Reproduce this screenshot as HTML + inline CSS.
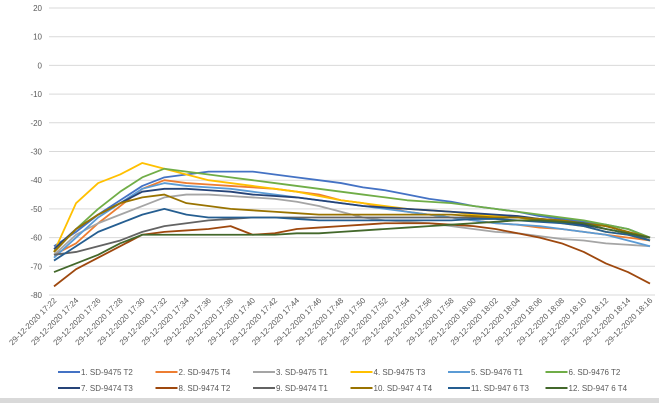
<!DOCTYPE html>
<html><head><meta charset="utf-8"><style>
body{margin:0;background:#fff;width:659px;height:403px;overflow:hidden;font-family:"Liberation Sans",sans-serif}
</style></head><body>
<svg id="chart" width="659" height="403" xmlns="http://www.w3.org/2000/svg" font-family="Liberation Sans, sans-serif">
<rect x="0" y="398" width="659" height="5" fill="#d9d9d9"/>
</svg>
<script>
const categories=["17:22","17:24","17:26","17:28","17:30","17:32","17:34","17:36","17:38","17:40","17:42","17:44","17:46","17:48","17:50","17:52","17:54","17:56","17:58","18:00","18:02","18:04","18:06","18:08","18:10","18:12","18:14","18:16"];
const yTicks=[20,10,0,-10,-20,-30,-40,-50,-60,-70,-80];
const seriesNames=["1. SD-9475 T2","2. SD-9475 T4","3. SD-9475 T1","4. SD-9475 T3","5. SD-9476 T1","6. SD-9476 T2","7. SD-9474 T3","8. SD-9474 T2","9. SD-9474 T1","10. SD-947 4 T4","11. SD-947 6 T3","12. SD-947 6 T4"];
const seriesColors=["#4472C4","#ED7D31","#A5A5A5","#FFC000","#5B9BD5","#70AD47","#264478","#9E480E","#636363","#997300","#255E91","#43682B"];
const s1=[-63,-58,-52,-47,-42,-39,-38,-37,-37,-37,-38,-39,-40,-41,-42.5,-43.5,-45,-46.5,-47.5,-49,-50,-51,-52.5,-53.5,-54.5,-55.5,-57,-60];
const s2=[-66,-62,-55,-49,-43,-40,-41,-41.5,-42,-42.5,-43,-44,-45,-47,-48,-49.5,-51,-52,-53,-54,-55,-55.5,-56.5,-57,-58,-59,-60,-61];
const s3=[-66,-59,-55,-52,-49,-46,-45,-45,-45.5,-46,-46.5,-47.5,-49,-51,-53,-54,-54.5,-55,-56,-57,-58,-58.5,-59.5,-60.5,-61,-62,-62.5,-63];
const s4=[-65,-48,-41,-38,-34,-36,-38,-40,-41,-42,-43,-44,-45.5,-47,-48,-49,-50,-50.5,-51,-52,-52.5,-53,-54,-55,-56,-58,-59,-61];
const s5=[-67,-60,-53,-48,-43,-41,-42,-42.5,-43,-44,-45,-46,-47,-48,-49,-50,-51,-52,-53,-54,-55,-55.5,-56,-57,-58,-59,-61,-63];
const s6=[-65,-57,-50,-44,-39,-36,-37,-38,-39,-40,-41,-42,-43,-44,-45,-46,-47,-47.5,-48,-49,-50,-51,-52,-53,-54,-55.5,-57,-60];
const s7=[-64,-57,-52,-48,-44,-43,-43,-43.5,-44,-45,-45.5,-46,-47,-48,-49,-49.5,-50,-50.5,-51,-51.5,-52,-52.5,-53.5,-54.5,-55.5,-57,-58.5,-60];
const s8=[-77,-71,-67,-63,-59,-58,-57.5,-57,-56,-59,-58.5,-57,-56.5,-56,-55.5,-55,-55,-55,-55.5,-56,-57,-58.5,-60,-62,-65,-69,-72,-76];
const s9=[-66,-65,-63,-61,-58,-56,-55,-54,-53.5,-53,-53,-53,-53,-53,-53,-53,-53,-53,-53,-53,-53,-53,-53.5,-54,-55,-56,-58,-61];
const s10=[-65,-57,-52,-48,-46,-45,-48,-49,-50,-50.5,-51,-51.5,-52,-52,-52,-52,-52,-52,-52,-52.5,-53,-53,-53.5,-54,-55,-56,-58,-60];
const s11=[-68,-63,-58,-55,-52,-50,-52,-53,-53,-53,-53,-53.5,-54,-54,-54,-54,-54,-54,-54,-53.5,-53.5,-54,-54.5,-55,-56,-58,-59,-61];
const s12=[-72,-69,-66,-62,-59,-59,-59,-59,-59,-59,-59,-58.5,-58.5,-58,-57.5,-57,-56.5,-56,-55.5,-55,-54.5,-54,-54,-54.5,-55,-57,-58.5,-60];
const allSeries=[s1,s2,s3,s4,s5,s6,s7,s8,s9,s10,s11,s12];

const svg=document.getElementById('chart');
const NS='http://www.w3.org/2000/svg';
const X0=54,X1=650,Y0=8,Y1=295,YMAX=20,YMIN=-80;
function xs(i){return X0+i*(X1-X0)/(categories.length-1);}
function ys(v){return Y0+(YMAX-v)*(Y1-Y0)/(YMAX-YMIN);}
function mk(tag,attrs){const e=document.createElementNS(NS,tag);for(const k in attrs)e.setAttribute(k,attrs[k]);svg.appendChild(e);return e;}

yTicks.forEach(t=>{
  const g=mk('line',{x1:49,x2:655,y1:ys(t),y2:ys(t),stroke:'#d9d9d9','stroke-width':1});
  
  
  const l=mk('text',{x:42,y:ys(t)+3,'text-anchor':'end','font-size':8,fill:'#595959'});
  l.textContent=t;
  
  
});
categories.forEach((c,i)=>{
  const x=xs(i)+3,y=301;
  const l=mk('text',{x:x,y:y,'text-anchor':'end','font-size':8,fill:'#595959',transform:`rotate(-45 ${x} ${y})`});
  l.textContent='29-12-2020 '+c;
  
  
});
allSeries.forEach((s,k)=>{
  const p=mk('polyline',{points:s.map((v,i)=>xs(i)+','+ys(v)).join(' '),fill:'none',stroke:seriesColors[k],'stroke-width':1.8,'stroke-linejoin':'round'});
  
  
});
seriesNames.forEach((n,k)=>{
  const col=k%6,row=Math.floor(k/6);
  const x=58+col*97.5,y=372+row*16;
  const ln=mk('line',{x1:x,x2:x+22,y1:y,y2:y,stroke:seriesColors[k],'stroke-width':2});
  
  
  const t=mk('text',{x:x+23,y:y+3,'font-size':8,fill:'#595959'});
  t.textContent=n;
  
  
});
</script>
</body></html>
